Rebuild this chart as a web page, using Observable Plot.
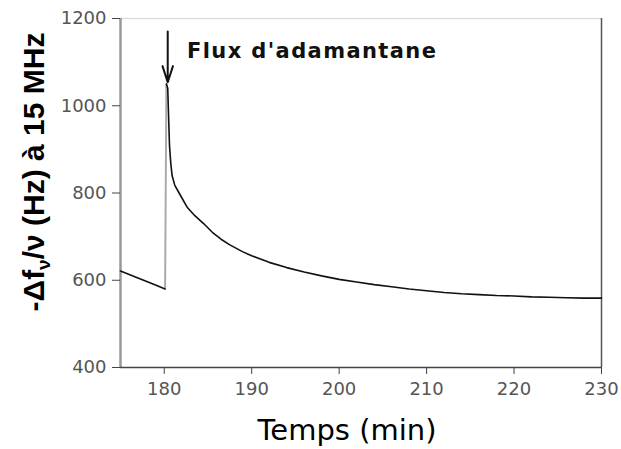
<!DOCTYPE html>
<html>
<head>
<meta charset="utf-8">
<script src="https://cdn.jsdelivr.net/npm/d3@7"></script>
<script src="https://cdn.jsdelivr.net/npm/@observablehq/plot@0.6"></script>
<style>
  html, body { margin: 0; padding: 0; background: #fff; }
  #chart { width: 621px; height: 449px; }
</style>
</head>
<body>
<div id="chart"></div>
<script>
// Before adamantane injection
const preTime  = [175, 176, 177, 178, 179, 180.1];
const preValue = [621, 613, 605, 597, 589, 580];
// After injection
const postTime  = [180.25, 180.4, 180.5, 180.6, 180.75, 180.9, 181.2, 181.7, 182.6, 183.5, 184.5, 185.5, 186.5, 187.5, 189, 190, 192, 194, 196, 198, 200, 202, 204, 206, 208, 210, 212, 214, 216, 218, 220, 222, 224, 226, 228, 230];
const postValue = [1050, 1040, 975, 910, 868, 840, 818, 800, 768, 748, 730, 710, 694, 681, 665, 656, 641, 629, 619, 610, 602, 596, 590, 585, 580, 576, 572, 569, 567, 565, 564, 562, 561, 560, 559, 559];
const xTicks = [180, 190, 200, 210, 220, 230];
const yTicks = [400, 600, 800, 1000, 1200];
const annotationText = "Flux d'adamantane";
const arrowTime = 180.4, arrowFrom = 1170, arrowTo = 1054;
const labelTime = 182.6, labelValue = 1126;

const pre = preTime.map((t, i) => ({t, v: preValue[i]}));
const post = postTime.map((t, i) => ({t, v: postValue[i]}));
const jump = [{x1: pre[pre.length - 1].t, y1: pre[pre.length - 1].v, x2: post[0].t, y2: post[0].v}];

const chart = Plot.plot({
  width: 621,
  height: 449,
  marginLeft: 120,
  marginRight: 20,
  marginTop: 18,
  marginBottom: 82,
  style: {fontFamily: "DejaVu Sans", fontSize: "18px", color: "#555", background: "#fff"},
  x: {domain: [175, 230], label: null},
  y: {domain: [400, 1200], label: null},
  marks: [
    Plot.ruleY([1200], {stroke: "#ddd", strokeWidth: 1.5}),
    Plot.ruleX([230], {stroke: "#555", strokeWidth: 1.5}),
    Plot.ruleX([175], {stroke: "#999", strokeWidth: 2.5}),
    Plot.ruleY([400], {stroke: "#444", strokeWidth: 1.5}),
    Plot.link(jump, {x1: "x1", y1: "y1", x2: "x2", y2: "y2", stroke: "#aaa", strokeWidth: 2}),
    Plot.line(pre, {x: "t", y: "v", stroke: "#111", strokeWidth: 1.6}),
    Plot.line(post, {x: "t", y: "v", stroke: "#111", strokeWidth: 1.6}),
    Plot.arrow([{x: arrowTime, y1: arrowFrom, y2: arrowTo}], {x1: "x", x2: "x", y1: "y1", y2: "y2", stroke: "#111", strokeWidth: 2, headLength: 14, headAngle: 36}),
    Plot.text([annotationText], {x: labelTime, y: labelValue, text: d => d, textAnchor: "start", fontWeight: "bold", fontSize: 21, fill: "#111", fontFamily: "DejaVu Sans"}),
    Plot.axisX({ticks: xTicks, tickFormat: d => String(d), tickSize: 7, tickPadding: 8, stroke: "#444", fill: "#555", label: null}),
    Plot.axisY({ticks: yTicks, tickFormat: d => String(d), tickSize: 8, tickPadding: 6, stroke: "#444", fill: "#555", label: null})
  ]
});

const svg = d3.select(chart);
svg.selectAll("text")
  .filter(function() { return this.textContent === annotationText; })
  .attr("letter-spacing", "1.4px");

svg.append("text")
  .attr("x", 347).attr("y", 440)
  .attr("text-anchor", "middle")
  .attr("font-family", "DejaVu Sans")
  .attr("font-size", 29)
  .attr("fill", "#000")
  .text("Temps (min)");

const yl = svg.append("text")
  .attr("transform", "translate(44,172) rotate(-90)")
  .attr("text-anchor", "middle")
  .attr("font-family", "Liberation Sans")
  .attr("font-weight", "bold")
  .attr("font-size", 30)
  .attr("fill", "#000");
yl.append("tspan").text("-Δf");
yl.append("tspan").attr("dy", 6).attr("font-size", 19).text("ν");
yl.append("tspan").attr("dy", -6).text("/ν (Hz) à 15 MHz");

document.getElementById("chart").appendChild(chart);
</script>
</body>
</html>
